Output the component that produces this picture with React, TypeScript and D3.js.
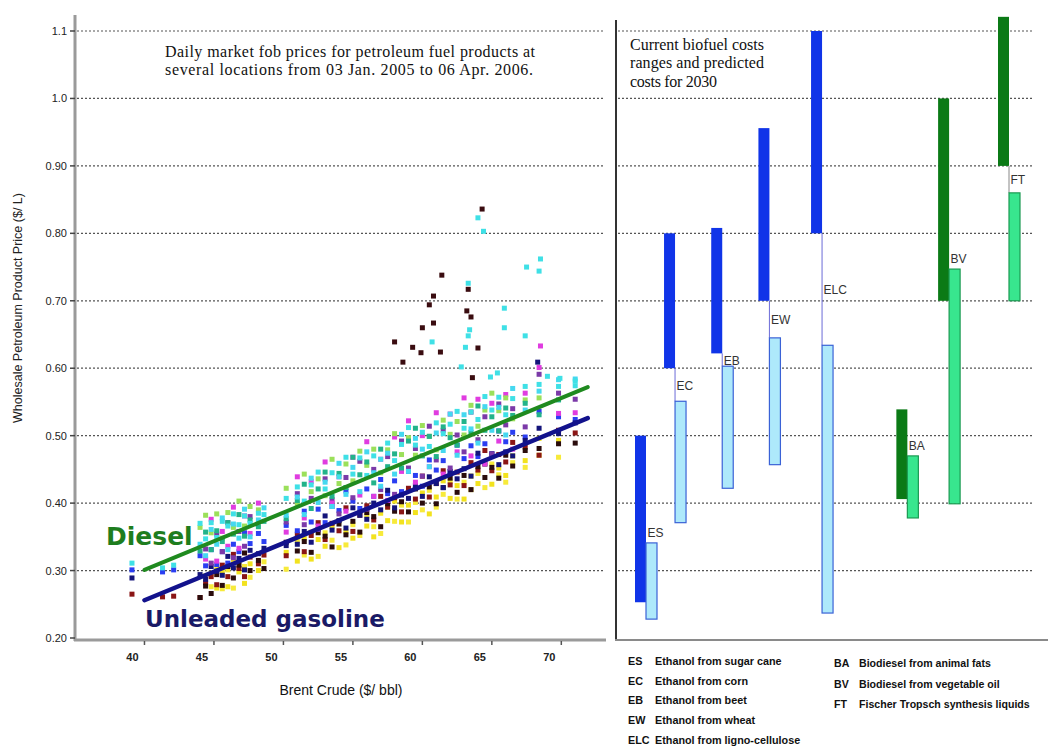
import React from 'react';
import * as d3 from 'd3';

// ---------- Left panel: daily fob prices vs Brent ----------
const brent = [39.1,41.3,42.1,44.0,44.4,44.8,45.2,45.6,46.0,46.4,46.8,47.2,47.6,48.2,48.6,50.2,51.0,51.5,52.0,52.5,53.0,53.5,54.0,54.5,55.0,55.5,56.0,56.5,57.0,57.5,58.0,58.5,59.0,59.5,60.0,60.5,61.0,61.5,62.0,62.5,63.0,63.5,64.0,64.5,65.0,65.5,66.0,66.5,67.4,68.4,69.8,71.0];

const cyanPrices = [0.311,0.304,0.308,0.370,0.347,0.371,0.349,0.373,0.366,0.384,0.368,0.381,0.370,0.385,0.383,0.407,0.424,0.403,0.427,0.446,0.421,0.445,0.439,0.468,0.443,0.467,0.441,0.470,0.465,0.489,0.463,0.487,0.512,0.486,0.505,0.484,0.519,0.503,0.517,0.536,0.511,0.535,0.524,0.558,0.538,0.557,0.531,0.555,0.573,0.576,0.573,0.574];
const cyan2Prices = [null,null,null,0.339,0.322,0.361,0.339,0.378,0.331,0.369,0.348,0.391,0.350,0.375,0.393,0.382,0.409,0.383,0.437,0.401,0.431,0.395,0.459,0.413,0.453,0.417,0.476,0.445,0.425,0.474,0.443,0.502,0.447,0.496,0.480,0.454,0.504,0.478,0.532,0.471,0.531,0.510,0.489,0.543,0.508,0.542,0.501,0.570,0.538,0.566,0.583,0.584];
const tealPrices = [null,null,null,0.329,0.357,0.331,0.359,0.343,0.371,0.354,0.383,0.351,0.375,0.365,0.373,0.377,0.404,0.428,0.392,0.421,0.446,0.410,0.444,0.423,0.468,0.442,0.461,0.430,0.480,0.454,0.473,0.452,0.492,0.511,0.470,0.499,0.469,0.513,0.497,0.486,0.521,0.505,0.544,0.508,0.528,0.507,0.541,0.530,0.548,0.531,0.553,null];
const limePrices = [null,null,null,0.364,0.382,0.356,0.384,0.348,0.386,0.364,0.403,0.366,0.395,0.390,null,0.422,0.399,0.443,0.417,0.436,0.411,0.465,0.429,0.458,0.433,0.477,0.456,0.480,0.445,0.479,0.503,0.472,0.497,0.471,0.515,0.499,0.479,0.523,0.502,0.521,0.501,0.545,0.514,0.538,0.563,0.537,0.556,0.525,0.553,0.556,null,null];
const magentaPrices = [null,null,null,null,0.317,0.376,0.314,0.358,0.336,0.394,0.333,0.381,0.355,0.400,null,0.357,0.439,0.378,0.432,0.366,0.461,0.400,0.439,0.388,0.468,0.412,0.491,0.410,0.465,0.404,0.498,0.447,0.522,0.431,0.500,0.454,0.534,0.443,0.532,0.476,0.556,0.470,0.554,0.458,0.548,0.492,0.561,0.480,0.563,0.601,0.533,0.534];
const bluePrices = [0.301,0.298,0.301,0.322,0.307,0.331,0.309,0.328,0.311,0.339,0.328,0.356,0.340,0.355,0.343,0.367,0.359,0.388,0.372,0.391,0.371,0.395,0.389,0.418,0.403,0.392,0.421,0.410,0.435,0.414,0.433,0.417,0.447,0.441,0.425,0.464,0.449,0.463,0.447,0.486,0.466,0.485,0.469,0.488,0.473,0.507,0.491,0.505,0.498,0.536,0.528,0.524];
const maroonPrices = [0.265,0.261,0.262,0.260,0.282,0.291,0.279,0.308,0.291,0.324,0.303,0.291,0.320,0.310,0.323,0.322,0.354,0.328,0.352,0.371,0.346,0.370,0.359,0.393,0.358,0.382,0.396,0.375,0.410,0.394,0.408,0.387,0.422,0.406,0.440,0.409,0.429,0.448,0.427,0.446,0.426,0.460,0.449,0.478,0.448,0.472,0.461,0.490,0.483,0.471,0.508,0.504];
const blackPrices = [null,null,null,0.260,0.277,0.266,0.294,0.278,0.306,0.289,0.308,0.326,0.300,0.315,0.303,0.342,0.329,0.343,0.327,0.356,0.351,0.335,0.369,0.353,0.373,0.357,0.386,0.380,0.365,0.399,0.388,0.402,0.387,0.421,0.400,0.424,0.399,0.423,0.437,0.416,0.441,0.420,0.454,0.438,0.453,0.437,0.471,0.455,0.478,0.481,0.488,0.489];
const yellowPrices = [null,null,null,null,0.290,0.296,0.274,0.298,0.276,0.314,0.298,0.281,0.310,0.300,null,0.327,0.314,0.348,0.317,0.346,0.336,0.365,0.334,0.358,0.348,0.387,0.366,0.350,0.385,0.374,0.403,0.372,0.397,0.386,0.415,0.384,0.409,0.433,0.407,0.426,0.406,0.440,0.429,0.458,0.428,0.452,0.441,0.470,0.463,0.496,0.493,null];
const yellow2Prices = [null,null,null,null,0.292,0.276,0.304,0.273,0.301,0.274,0.313,0.306,0.290,null,0.313,0.302,0.344,0.323,0.357,0.321,0.356,0.345,0.374,0.338,0.368,0.352,0.381,0.365,0.355,0.394,0.373,0.397,0.372,0.401,0.390,0.419,0.394,0.413,0.432,0.406,0.431,0.420,0.444,0.423,0.458,0.442,0.431,0.460,0.453,0.471,0.468,null];
const navyPrices = [0.289,null,null,0.294,0.287,0.306,0.299,0.293,0.321,0.304,0.318,0.301,0.330,0.325,0.333,0.337,0.339,0.358,0.342,0.361,0.381,0.360,0.374,0.363,0.393,0.382,0.376,0.400,0.390,0.419,0.393,0.412,0.407,0.426,0.410,0.439,0.429,0.423,0.447,0.436,0.451,0.440,0.474,0.458,0.473,0.457,0.476,0.470,0.493,0.511,0.503,0.519];
const purplePrices = [null,null,null,null,0.332,0.311,0.354,0.328,0.371,0.319,0.358,0.336,0.380,null,null,0.372,0.414,0.368,0.407,0.361,0.436,0.405,0.384,0.438,0.408,0.462,0.391,0.450,0.420,0.469,0.413,0.492,0.452,0.481,0.440,0.514,0.464,0.508,0.452,0.501,0.476,0.535,0.494,0.528,0.473,0.547,0.516,0.540,0.513,0.591,0.563,0.554];

const darkOutlierBrent = [58.0,59.3,59.9,60.0,60.8,60.5,60.8,61.4,63.2,63.5,63.3,64.0,61.3,64.3,58.6,63.6];
const darkOutlierPrice = [0.639,0.631,0.623,0.660,0.667,0.694,0.707,0.738,0.685,0.676,0.717,0.630,0.624,0.836,0.609,0.586];
const cyanOutlierBrent = [64.0,64.4,63.3,63.4,63.3,63.1,60.7,62.8,65.9,65.9,67.4,67.5,68.5,68.4,64.9,65.4,69.0,69.9,71.0];
const cyanOutlierPrice = [0.823,0.803,0.726,0.657,0.648,0.631,0.639,0.602,0.689,0.660,0.648,0.750,0.762,0.744,0.587,0.593,0.588,0.585,0.581];
const magentaOutlierBrent = [68.5];
const magentaOutlierPrice = [0.633];
const navyOutlierBrent = [68.3];
const navyOutlierPrice = [0.609];

const dieselTrendBrent = [40, 71.9];
const dieselTrendPrice = [0.301, 0.572];
const gasolineTrendBrent = [40, 71.9];
const gasolineTrendPrice = [0.256, 0.526];

const yTicks = [0.2,0.3,0.4,0.5,0.6,0.7,0.8,0.9,1.0,1.1];
const yTickLabels = ['0.20','0.30','0.40','0.50','0.60','0.70','0.80','0.90','1.0','1.1'];
const xTicks = [40,45,50,55,60,65,70];

// ---------- Right panel: biofuel costs ----------
const biofuels = ['ES','EC','EB','EW','ELC','BA','BV','FT'];
const biofuelKind = ['ethanol','ethanol','ethanol','ethanol','ethanol','diesel','diesel','diesel'];
const currentLow = [0.253,0.600,0.622,0.700,0.800,0.406,0.700,0.900];
const currentHigh = [0.500,0.800,0.808,0.956,1.100,0.539,1.000,1.121];
const low2030 = [0.228,0.371,0.422,0.457,0.237,0.378,0.399,0.700];
const high2030 = [0.341,0.551,0.603,0.645,0.634,0.470,0.747,0.860];

const legendCodesLeft = ['ES','EC','EB','EW','ELC'];
const legendNamesLeft = ['Ethanol from sugar cane','Ethanol from corn','Ethanol from beet','Ethanol from wheat','Ethanol from ligno-cellulose'];
const legendCodesRight = ['BA','BV','FT'];
const legendNamesRight = ['Biodiesel from animal fats','Biodiesel from vegetable oil','Fischer Tropsch synthesis liquids'];

// layout (not data): horizontal slot of each biofuel group on the right panel
const slotPos = [0, 0.8, 2.1, 3.4, 4.85, 7.2, 8.35, 10];

const W = 1048, H = 746;

export default function App() {
  const y = d3.scaleLinear().domain([0.2, 1.1]).range([638, 31]);
  const x = d3.scaleLinear().domain([35, 73]).range([75, 603]);
  const xb = d3.scaleLinear().domain([0, 10]).range([635, 998]);
  const bw = 11;

  const series = [
    { c: '#f2e21e', v: yellowPrices },
    { c: '#f7ea3a', v: yellow2Prices },
    { c: '#8a1515', v: maroonPrices },
    { c: '#2a0c0c', v: blackPrices },
    { c: '#2a3ef2', v: bluePrices },
    { c: '#14147a', v: navyPrices },
    { c: '#7b3aa8', v: purplePrices },
    { c: '#e03ce0', v: magentaPrices },
    { c: '#9be05a', v: limePrices },
    { c: '#22b38a', v: tealPrices },
    { c: '#45d8f0', v: cyan2Prices },
    { c: '#3fe0e6', v: cyanPrices },
  ];
  const outliers = [
    { c: '#3fe0e6', xs: cyanOutlierBrent, ys: cyanOutlierPrice },
    { c: '#3a0c10', xs: darkOutlierBrent, ys: darkOutlierPrice },
    { c: '#e03ce0', xs: magentaOutlierBrent, ys: magentaOutlierPrice },
    { c: '#14147a', xs: navyOutlierBrent, ys: navyOutlierPrice },
  ];
  const ms = 5;
  const trend = (bx: number[], py: number[]) =>
    d3.line<[number, number]>().x(d => x(d[0])).y(d => y(d[1]))(bx.map((b, i) => [b, py[i]] as [number, number])) || '';

  const sans = "'Liberation Sans', Arial, sans-serif";
  const serif = "'Liberation Serif', 'DejaVu Serif', serif";

  return (
    <svg width={W} height={H} style={{ position: 'absolute', left: 0, top: 0, background: '#fff' }}>
      <rect width={W} height={H} fill="#fff" />
      {/* left gridlines */}
      {yTicks.slice(1).map(t => (
        <line key={'gl' + t} x1={77} x2={605} y1={y(t)} y2={y(t)} stroke="#555" strokeWidth={1.2} strokeDasharray="2 2" />
      ))}
      {/* right gridlines */}
      {yTicks.slice(1).map(t => (
        <line key={'gr' + t} x1={618} x2={1032} y1={y(t)} y2={y(t)} stroke="#555" strokeWidth={1.2} strokeDasharray="2 2" />
      ))}

      {/* scatter */}
      {series.map((s, si) =>
        s.v.map((p, i) => p == null ? null : (
          <rect key={`s${si}-${i}`} x={x(brent[i]) - ms / 2} y={y(p) - ms / 2} width={ms} height={ms} fill={s.c} />
        ))
      )}
      {/* trend lines */}
      <path d={trend(dieselTrendBrent, dieselTrendPrice)} stroke="#1f8a1f" strokeWidth={4} fill="none" strokeLinecap="round" />
      <path d={trend(gasolineTrendBrent, gasolineTrendPrice)} stroke="#12128c" strokeWidth={4.5} fill="none" strokeLinecap="round" />
      {outliers.map((o, oi) =>
        o.xs.map((b, i) => (
          <rect key={`o${oi}-${i}`} x={x(b) - ms / 2} y={y(o.ys[i]) - ms / 2} width={ms} height={ms} fill={o.c} />
        ))
      )}

      {/* left axes */}
      <line x1={75} x2={75} y1={15} y2={641} stroke="#9a9a9a" strokeWidth={3} />
      <line x1={74} x2={606} y1={640} y2={640} stroke="#9a9a9a" strokeWidth={3} />
      {yTicks.map((t, i) => (
        <g key={'yt' + t}>
          <line x1={70} x2={75} y1={y(t)} y2={y(t)} stroke="#444" strokeWidth={1.5} />
          <text x={67} y={y(t) + 4} textAnchor="end" fontFamily={sans} fontSize={11} fill="#222">{yTickLabels[i]}</text>
        </g>
      ))}
      {xTicks.map(t => (
        <g key={'xt' + t}>
          <line x1={x(t)} x2={x(t)} y1={641} y2={645} stroke="#555" strokeWidth={1.5} />
          <text x={x(t) - 12} y={661} textAnchor="middle" fontFamily={sans} fontSize={11} fontWeight="bold" fill="#222">{t}</text>
        </g>
      ))}
      <text transform="translate(22,308) rotate(-90)" textAnchor="middle" fontFamily={sans} fontSize={12.5} fill="#222">Wholesale Petroleum Product Price ($/ L)</text>
      <text x={341} y={695} textAnchor="middle" fontFamily={sans} fontSize={14} fill="#111">Brent Crude ($/ bbl)</text>
      <text x={165} y={57} fontFamily={serif} fontSize={16} fill="#111" textLength={370} lengthAdjust="spacing">Daily market fob prices for petroleum fuel products at</text>
      <text x={165} y={75} fontFamily={serif} fontSize={16} fill="#111" textLength={368} lengthAdjust="spacing">several locations from 03 Jan. 2005 to 06 Apr. 2006.</text>
      <text x={106} y={545} fontFamily="'DejaVu Sans', Verdana, sans-serif" fontWeight="bold" fontSize={25} fill="#1e7d1e">Diesel</text>
      <text x={145} y={627} fontFamily="'DejaVu Sans', Verdana, sans-serif" fontWeight="bold" fontSize={23} fill="#1a1a66">Unleaded gasoline</text>

      {/* right panel bars */}
      {biofuels.map((b, i) => {
        const x0 = xb(slotPos[i]);
        const eth = biofuelKind[i] === 'ethanol';
        const dark = eth ? '#1034e8' : '#0b7a16';
        const light = eth ? '#aee9fb' : '#38e68e';
        const lstroke = eth ? '#3a62d6' : '#1b9a52';
        const gap = high2030[i] < currentLow[i];
        const labelY = gap
          ? (y(currentLow[i]) + y(high2030[i])) / 2 + 5
          : y(high2030[i]) - 6;
        return (
          <g key={b}>
            {gap && (
              <line x1={x0 + bw} x2={x0 + bw} y1={y(currentLow[i])} y2={y(high2030[i])} stroke={eth ? '#6b6bd8' : '#888'} strokeWidth={1} />
            )}
            <rect x={x0} y={y(currentHigh[i])} width={bw} height={y(currentLow[i]) - y(currentHigh[i])} fill={dark} />
            <rect x={x0 + bw} y={y(high2030[i])} width={bw} height={y(low2030[i]) - y(high2030[i])} fill={light} stroke={lstroke} strokeWidth={1.2} />
            <text x={x0 + bw + 1.5} y={labelY} fontFamily={sans} fontSize={12} fill="#333">{b}</text>
          </g>
        );
      })}
      {/* right axes */}
      <line x1={616} x2={616} y1={20} y2={641} stroke="#333" strokeWidth={2} />
      <line x1={615} x2={1048} y1={640} y2={640} stroke="#8a8a8a" strokeWidth={2} />
      <text x={630} y={50} fontFamily={serif} fontSize={16} fill="#111" textLength={134} lengthAdjust="spacing">Current biofuel costs</text>
      <text x={630} y={68} fontFamily={serif} fontSize={16} fill="#111" textLength={134} lengthAdjust="spacing">ranges and predicted</text>
      <text x={630} y={87} fontFamily={serif} fontSize={16} fill="#111" textLength={87} lengthAdjust="spacing">costs for 2030</text>

      {/* legend */}
      {legendCodesLeft.map((c, i) => (
        <g key={'ll' + c}>
          <text x={628} y={665 + i * 19.7} fontFamily={sans} fontSize={10.8} fontWeight="bold" fill="#111">{c}</text>
          <text x={655} y={665 + i * 19.7} fontFamily={sans} fontSize={10.8} fontWeight="bold" fill="#111">{legendNamesLeft[i]}</text>
        </g>
      ))}
      {legendCodesRight.map((c, i) => (
        <g key={'lr' + c}>
          <text x={834} y={667 + i * 20.5} fontFamily={sans} fontSize={10.6} fontWeight="bold" fill="#111">{c}</text>
          <text x={859} y={667 + i * 20.5} fontFamily={sans} fontSize={10.6} fontWeight="bold" fill="#111">{legendNamesRight[i]}</text>
        </g>
      ))}
    </svg>
  );
}
